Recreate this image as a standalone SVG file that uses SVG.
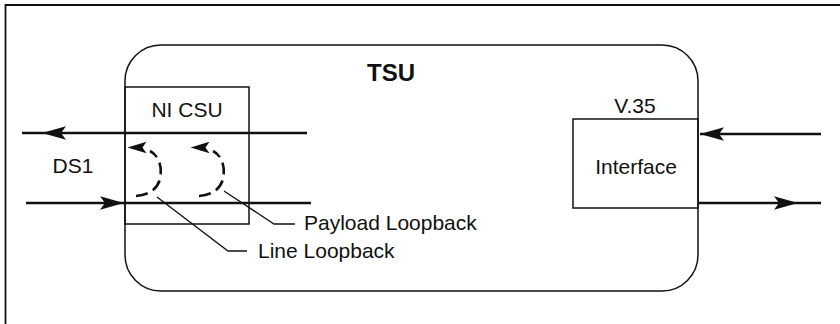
<svg xmlns="http://www.w3.org/2000/svg" xmlns:xlink="http://www.w3.org/1999/xlink" width="840" height="324" viewBox="0 0 840 324">
<style>
text{font-family:"Liberation Sans",Arial,sans-serif;font-size:21px;fill:#111}
.bold{font-weight:bold;font-size:24px}
.box{fill:none;stroke:#111;stroke-width:1.5}
.sig{fill:none;stroke:#111;stroke-width:2.7}
.dash{fill:none;stroke:#111;stroke-width:2.6;stroke-dasharray:12 6}
.lead{fill:none;stroke:#111;stroke-width:1.3}
.ah{fill:#111}
</style>
<defs>
<path id="arr" d="M0,0 L-24,-6.8 L-19,0 L-24,6.8 Z"/>
<path id="sarr" d="M0,0 L-19,-5.8 L-15,0 L-19,5.8 Z"/>
</defs>
<g id="frame">
<path d="M5.5,324 V5 H840" fill="none" stroke="#111" stroke-width="1.8"/>
</g>
<g id="tsu">
<rect class="box" x="125" y="45" width="573" height="246" rx="36" ry="36"/>
<text class="bold" x="391" y="81" text-anchor="middle">TSU</text>
</g>
<g id="ni-csu">
<rect class="box" x="125" y="87" width="124" height="137"/>
<text x="187" y="117" text-anchor="middle">NI CSU</text>
</g>
<g id="interface">
<rect class="box" x="573" y="119" width="125" height="89"/>
<text x="636" y="174" text-anchor="middle">Interface</text>
<text x="635" y="113" text-anchor="middle">V.35</text>
</g>
<g id="labels">
<text x="73" y="173" text-anchor="middle">DS1</text>
<text x="304" y="230">Payload Loopback</text>
<text x="258" y="258">Line Loopback</text>
</g>
<g id="connectors">
<line class="sig" x1="22" y1="133" x2="307" y2="133"/>
<use href="#arr" class="ah" transform="translate(42,133) rotate(180)"/>
<line class="sig" x1="26" y1="203" x2="311" y2="203"/>
<use href="#arr" class="ah" transform="translate(124,203)"/>
<line class="sig" x1="700" y1="134" x2="821" y2="134"/>
<use href="#arr" class="ah" transform="translate(700,134) rotate(180)"/>
<line class="sig" x1="699" y1="203" x2="821" y2="203"/>
<use href="#arr" class="ah" transform="translate(798,203)"/>
<path class="dash" d="M136,196 C148,195 157,190 160,179 C163,166 158,155 150,151"/>
<use href="#sarr" class="ah" transform="translate(127.5,147.5) rotate(180)"/>
<path class="dash" d="M199,196 C211,195 220,190 223,179 C226,166 221,155 213,151"/>
<use href="#sarr" class="ah" transform="translate(190.5,147.5) rotate(180)"/>
<path class="lead" d="M157,197 L228,251 H247"/>
<path class="lead" d="M224,191 L274,224 H295"/>
</g>
</svg>
